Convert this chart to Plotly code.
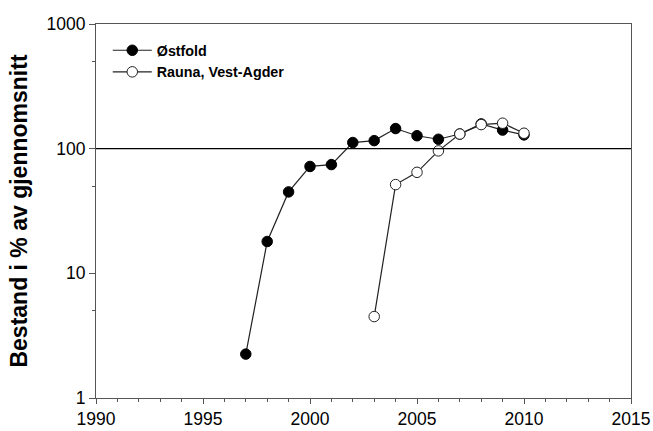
import plotly.graph_objects as go

years_ostfold = [1997, 1998, 1999, 2000, 2001, 2002, 2003, 2004, 2005, 2006, 2007, 2008, 2009, 2010]
ostfold = [2.25, 18, 45, 72, 74.5, 112, 116, 145, 127, 119, 131, 158, 141, 129]

years_rauna = [2003, 2004, 2005, 2006, 2007, 2008, 2009, 2010]
rauna = [4.5, 51.5, 64.6, 96, 131, 156, 160, 133]

x_ticks = [1990, 1995, 2000, 2005, 2010, 2015]
y_ticks = [1, 10, 100, 1000]
y_minor = [5, 50, 500]
ref_level = 100

font = "Liberation Sans, Arial, sans-serif"

fig = go.Figure()
fig.add_trace(go.Scatter(
    x=years_ostfold, y=ostfold, mode="lines+markers", name="Østfold",
    line=dict(color="#222", width=1.2),
    marker=dict(symbol="circle", size=10.5, color="black", line=dict(color="black", width=1)),
))
fig.add_trace(go.Scatter(
    x=years_rauna, y=rauna, mode="lines+markers", name="Rauna, Vest-Agder",
    line=dict(color="#222", width=1.2),
    marker=dict(symbol="circle", size=10.5, color="white", line=dict(color="#222", width=1)),
))

fig.add_shape(type="line", xref="paper", x0=0, x1=1, yref="y", y0=ref_level, y1=ref_level,
              line=dict(color="black", width=1.2))

fig.update_layout(
    width=653, height=431,
    margin=dict(l=96, r=22, t=24, b=33, autoexpand=False),
    paper_bgcolor="white", plot_bgcolor="white",
    font=dict(family=font, size=17.5, color="black"),
    showlegend=True,
    legend=dict(x=0.022, y=0.972, xanchor="left", yanchor="top",
                bgcolor="rgba(0,0,0,0)", font=dict(size=14.3, family=font, weight="bold"),
                itemwidth=39, tracegroupgap=0),
    xaxis=dict(range=[1990, 2015], tickvals=x_ticks, ticktext=[str(v) for v in x_ticks],
               automargin=False,
               showgrid=False, zeroline=False, showline=True, linecolor="#555", linewidth=1,
               mirror=True, ticks="outside", ticklen=5, tickcolor="#555",
               minor=dict(dtick=1, ticks="outside", ticklen=3, tickcolor="#555", showgrid=False),
               tickfont=dict(size=17.5)),
    yaxis=dict(type="log", range=[0, 3], tickvals=y_ticks, ticktext=[str(v) for v in y_ticks],
               automargin=False,
               showgrid=False, zeroline=False, showline=True, linecolor="#555", linewidth=1,
               mirror=True, ticks="outside", ticklen=6, tickcolor="#555",
               minor=dict(tickvals=y_minor, ticks="outside", ticklen=3, tickcolor="#555", showgrid=False),
               tickfont=dict(size=17.5),
               title=dict(text="Bestand i % av gjennomsnitt", font=dict(size=23, family=font, weight="bold"),
                          standoff=12)),
)

# remove the default 8px page margin so the figure fills the window exactly
fig.write_html("out.html", config={"displayModeBar": False},
               post_script="document.body.style.margin='0';document.body.style.overflow='hidden';")
